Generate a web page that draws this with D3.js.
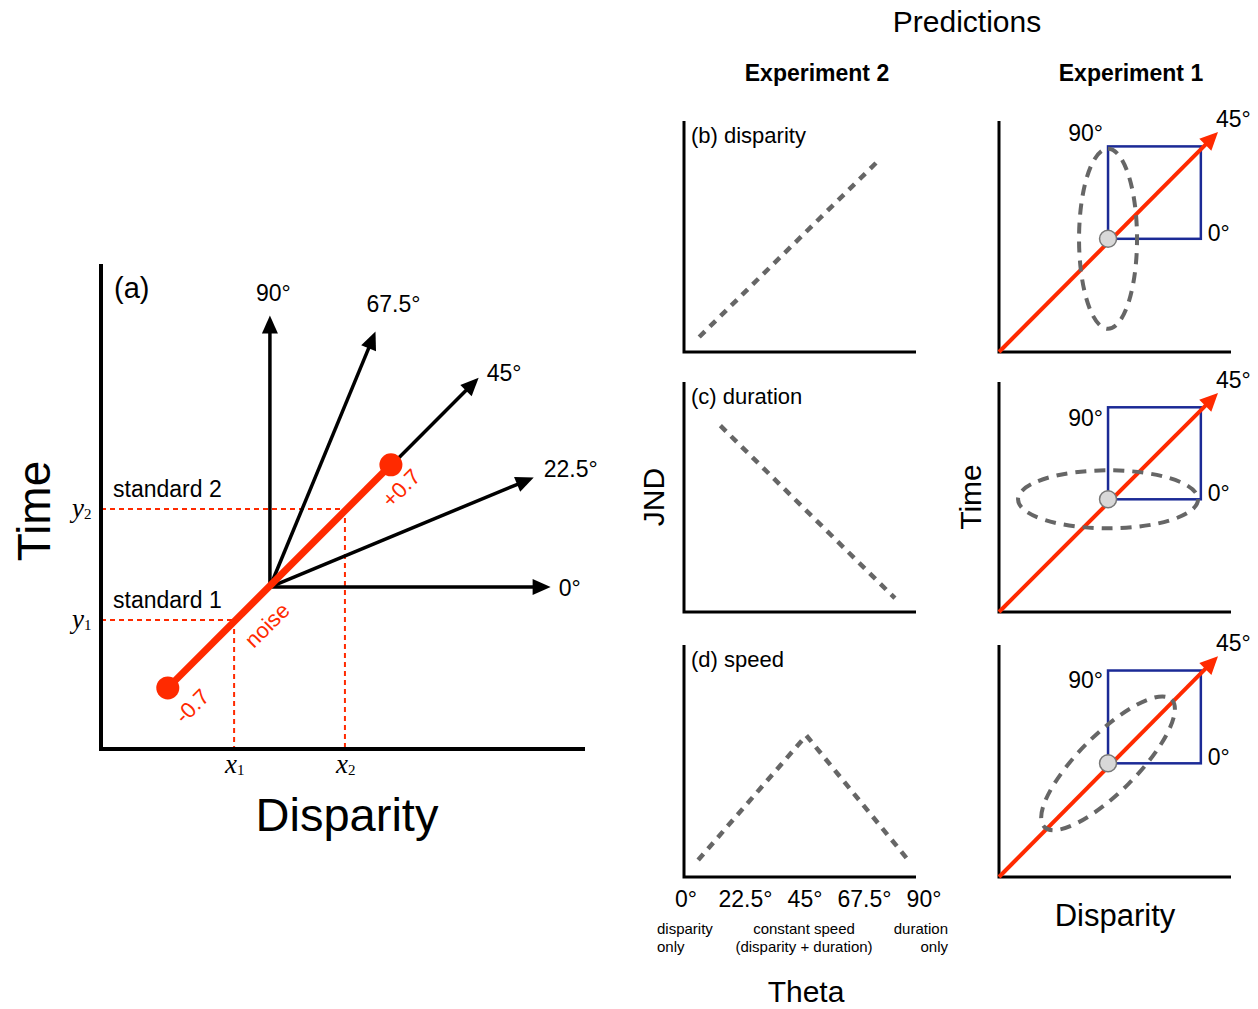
<!DOCTYPE html>
<html>
<head>
<meta charset="utf-8">
<title>Predictions</title>
<script src="https://cdn.jsdelivr.net/npm/d3@7"></script>
<style>
  body { margin: 0; background: #fff; }
  text { font-family: "Liberation Sans", Arial, Helvetica, sans-serif; }
</style>
</head>
<body>
<script>
// ---- panel (a): test directions in disparity / time space (diagram units 0..100)
var thetaAngles = [0, 22.5, 45, 67.5, 90];
var arrowLengths = [58, 59, 61, 57, 56];
var arrowOrigin = [34.9, 33.4];
var noiseEnds = [{label: "-0.7", x: 13.8, y: 12.6}, {label: "+0.7", x: 59.9, y: 58.6}];
var standards = [{label: "standard 1", sub: "1", x: 27.5, y: 26.6},
                 {label: "standard 2", sub: "2", x: 50.4, y: 49.5}];

// ---- panels (b)-(d): predicted JND against theta
var panelNames = ["(b) disparity", "(c) duration", "(d) speed"];
var jndTheta = [[5, 72], [13, 79], [4.6, 45.5, 84.6]];
var jndValues = [[0.065, 0.82], [0.81, 0.06], [0.073, 0.61, 0.065]];
var thetaLabels = ["0°", "22.5°", "45°", "67.5°", "90°"];

// ---- right column: noise ellipse orientation for each cue
var ellipseAngles = [90, 0, 45];
var standardPoint = [0.47, 0.49];
var squareSize = 0.4;
var arrowTip = [0.944, 0.952];
var ellipseRadii = [0.388, 0.125];

var W = 1258, H = 1009;
var red = "#ff2a00", blue = "#1b2a96", grey = "#666";

var svg = d3.select("body").append("svg")
  .attr("width", W).attr("height", H);

function arrow(g, x1, y1, x2, y2, color, width, hl, hw) {
  var a = Math.atan2(y2 - y1, x2 - x1);
  var bx = x2 - hl * Math.cos(a), by = y2 - hl * Math.sin(a);
  g.append("line").attr("x1", x1).attr("y1", y1).attr("x2", bx + Math.cos(a)).attr("y2", by + Math.sin(a))
    .attr("stroke", color).attr("stroke-width", width);
  var px = -Math.sin(a) * hw, py = Math.cos(a) * hw;
  g.append("path")
    .attr("d", "M" + x2 + "," + y2 + "L" + (bx + px) + "," + (by + py) + "L" + (bx - px) + "," + (by - py) + "Z")
    .attr("fill", color);
}

// ================= panel (a)
var ax = d3.scaleLinear().domain([0, 100]).range([101, 585]);
var ay = d3.scaleLinear().domain([0, 100]).range([749, 264]);
var ga = svg.append("g");

// red dashed standard projections
standards.forEach(function(s) {
  ga.append("line").attr("x1", ax(0)).attr("x2", ax(s.x)).attr("y1", ay(s.y)).attr("y2", ay(s.y))
    .attr("stroke", red).attr("stroke-width", 2).attr("stroke-dasharray", "5,4");
  ga.append("line").attr("x1", ax(s.x)).attr("x2", ax(s.x)).attr("y1", ay(s.y)).attr("y2", ay(0))
    .attr("stroke", red).attr("stroke-width", 2).attr("stroke-dasharray", "5,4");
  ga.append("text").attr("x", ax(0) + 12).attr("y", ay(s.y) - 12).attr("font-size", 23).text(s.label);
  var yl = ga.append("text").attr("x", 72).attr("y", ay(s.y) + 8)
    .attr("font-family", "Liberation Serif, Times New Roman, serif").attr("font-size", 27);
  yl.append("tspan").attr("font-style", "italic").attr("font-family", "Liberation Serif, serif").text("y");
  yl.append("tspan").attr("font-size", 15).attr("font-family", "Liberation Serif, serif").attr("dy", 2).text(s.sub);
  var xl = ga.append("text").attr("x", ax(s.x) - 9).attr("y", ay(0) + 24)
    .attr("font-family", "Liberation Serif, serif").attr("font-size", 27);
  xl.append("tspan").attr("font-style", "italic").attr("font-family", "Liberation Serif, serif").text("x");
  xl.append("tspan").attr("font-size", 15).attr("font-family", "Liberation Serif, serif").attr("dy", 2).text(s.sub);
});

// axes
ga.append("path").attr("d", "M" + ax(0) + "," + ay(100) + "V" + ay(0) + "H" + ax(100))
  .attr("fill", "none").attr("stroke", "#000").attr("stroke-width", 4);

// direction arrows
var labelOff = [[8, 9], [10, -1], [8, 3], [-9, -20], [-14, -14]];
thetaAngles.forEach(function(t, i) {
  var r = t * Math.PI / 180;
  var ex = arrowOrigin[0] + arrowLengths[i] * Math.cos(r);
  var ey = arrowOrigin[1] + arrowLengths[i] * Math.sin(r);
  arrow(ga, ax(arrowOrigin[0]), ay(arrowOrigin[1]), ax(ex), ay(ey), "#000", 3.5, 18, 8);
  ga.append("text").attr("x", ax(ex) + labelOff[i][0]).attr("y", ay(ey) + labelOff[i][1])
    .attr("font-size", 23).text(thetaLabels[i]);
});

// noise line
ga.append("line").attr("x1", ax(noiseEnds[0].x)).attr("y1", ay(noiseEnds[0].y))
  .attr("x2", ax(noiseEnds[1].x)).attr("y2", ay(noiseEnds[1].y))
  .attr("stroke", red).attr("stroke-width", 7);
ga.selectAll("circle.noise").data(noiseEnds).enter().append("circle")
  .attr("cx", function(d) { return ax(d.x); }).attr("cy", function(d) { return ay(d.y); })
  .attr("r", 11.5).attr("fill", red);
[[noiseEnds[0].label, 192, 706], ["noise", 267, 625], [noiseEnds[1].label, 401, 488]].forEach(function(l) {
  ga.append("text").attr("transform", "translate(" + l[1] + "," + l[2] + ") rotate(-45)")
    .attr("text-anchor", "middle").attr("dy", "0.35em").attr("font-size", 22).attr("fill", red).text(l[0]);
});

ga.append("text").attr("x", 114).attr("y", 298).attr("font-size", 29).text("(a)");
ga.append("text").attr("transform", "translate(50,511) rotate(-90)").attr("text-anchor", "middle")
  .attr("font-size", 46).text("Time");
ga.append("text").attr("x", 347).attr("y", 831).attr("text-anchor", "middle").attr("font-size", 47).text("Disparity");

// ================= predictions
var tops = [121, 382, 645], bottoms = [352, 612, 877];
var tx = d3.scaleLinear().domain([0, 90]).range([686, 924]);

svg.append("text").attr("x", 967).attr("y", 32).attr("text-anchor", "middle").attr("font-size", 30).text("Predictions");
svg.append("text").attr("x", 817).attr("y", 81).attr("text-anchor", "middle").attr("font-size", 23)
  .attr("font-weight", "bold").text("Experiment 2");
svg.append("text").attr("x", 1131).attr("y", 81).attr("text-anchor", "middle").attr("font-size", 23)
  .attr("font-weight", "bold").text("Experiment 1");

panelNames.forEach(function(name, i) {
  var y = d3.scaleLinear().domain([0, 1]).range([bottoms[i], tops[i]]);
  var g = svg.append("g");
  g.append("path").attr("d", "M684," + tops[i] + "V" + bottoms[i] + "H916")
    .attr("fill", "none").attr("stroke", "#000").attr("stroke-width", 3);
  g.append("text").attr("x", 691).attr("y", tops[i] + 22).attr("font-size", 22).text(name);
  var pts = jndTheta[i].map(function(t, k) { return [t, jndValues[i][k]]; });
  g.append("path").attr("d", d3.line().x(function(d) { return tx(d[0]); }).y(function(d) { return y(d[1]); })(pts))
    .attr("fill", "none").attr("stroke", grey).attr("stroke-width", 4.5).attr("stroke-dasharray", "8,7");

  // Experiment 1 sketches
  var rx = d3.scaleLinear().domain([0, 1]).range([999, 1231]);
  var h = svg.append("g");
  h.append("path").attr("d", "M" + rx(0) + "," + tops[i] + "V" + bottoms[i] + "H" + rx(1))
    .attr("fill", "none").attr("stroke", "#000").attr("stroke-width", 3);
  h.append("rect").attr("x", rx(standardPoint[0])).attr("y", y(standardPoint[1] + squareSize))
    .attr("width", rx(standardPoint[0] + squareSize) - rx(standardPoint[0]))
    .attr("height", y(standardPoint[1]) - y(standardPoint[1] + squareSize))
    .attr("fill", "none").attr("stroke", blue).attr("stroke-width", 2.5);
  arrow(h, rx(0), y(0), rx(arrowTip[0]), y(arrowTip[1]), red, 4, 18, 8.5);
  var cx = rx(standardPoint[0]), cy = y(standardPoint[1]);
  h.append("ellipse").attr("cx", 0).attr("cy", 0)
    .attr("rx", rx(ellipseRadii[0]) - rx(0)).attr("ry", rx(ellipseRadii[1]) - rx(0))
    .attr("transform", "translate(" + cx + "," + cy + ") rotate(" + (-ellipseAngles[i]) + ")")
    .attr("fill", "none").attr("stroke", grey).attr("stroke-width", 4).attr("stroke-dasharray", "11,8");
  h.append("circle").attr("cx", cx).attr("cy", cy).attr("r", 8.5)
    .attr("fill", "#d8d8d8").attr("stroke", "#777").attr("stroke-width", 1.5);
  var d90 = [-5, 19, 17][i];
  h.append("text").attr("x", cx - 5).attr("y", y(standardPoint[1] + squareSize) + d90)
    .attr("text-anchor", "end").attr("font-size", 23).text(thetaLabels[4]);
  h.append("text").attr("x", rx(standardPoint[0] + squareSize) + 7).attr("y", cy + 2)
    .attr("font-size", 23).text(thetaLabels[0]);
  h.append("text").attr("x", rx(arrowTip[0]) - 2).attr("y", y(arrowTip[1]) - 5)
    .attr("font-size", 23).text(thetaLabels[2]);
});

// theta axis labels
thetaLabels.forEach(function(l, i) {
  svg.append("text").attr("x", tx(thetaAngles[i])).attr("y", 907).attr("text-anchor", "middle")
    .attr("font-size", 23).text(l);
});
var subs = [["disparity", 657, 934, "start"], ["only", 657, 952, "start"],
            ["constant speed", 804, 934, "middle"], ["(disparity + duration)", 804, 952, "middle"],
            ["duration", 948, 934, "end"], ["only", 948, 952, "end"]];
subs.forEach(function(s) {
  svg.append("text").attr("x", s[1]).attr("y", s[2]).attr("text-anchor", s[3]).attr("font-size", 15).text(s[0]);
});
svg.append("text").attr("x", 806).attr("y", 1002).attr("text-anchor", "middle").attr("font-size", 30).text("Theta");
svg.append("text").attr("transform", "translate(664,497) rotate(-90)").attr("text-anchor", "middle")
  .attr("font-size", 30).text("JND");
svg.append("text").attr("transform", "translate(981,497) rotate(-90)").attr("text-anchor", "middle")
  .attr("font-size", 30).text("Time");
svg.append("text").attr("x", 1115).attr("y", 926).attr("text-anchor", "middle").attr("font-size", 31).text("Disparity");
</script>
</body>
</html>
